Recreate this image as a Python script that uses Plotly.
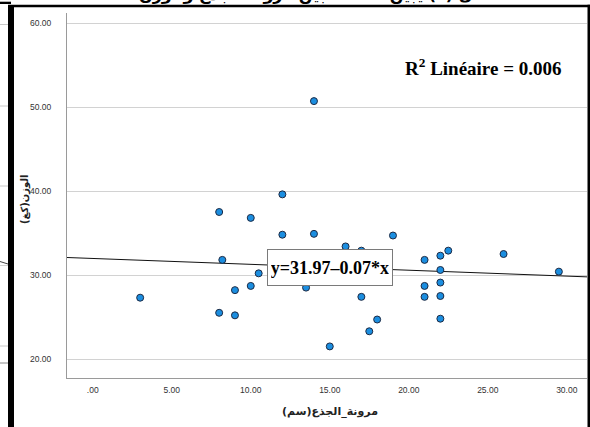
import plotly.graph_objects as go

# Trunk flexibility (cm) against body weight (kg)
flexibility_cm = [12, 8, 10, 12, 14, 19, 16, 17, 8.2, 10.5, 21, 22, 22.5, 26, 22, 29.5,
                  9, 10, 13.5, 21, 22, 17, 21, 22, 8, 9, 18, 22, 17.5, 15, 3, 14]
weight_kg = [39.6, 37.5, 36.8, 34.8, 34.9, 34.7, 33.4, 32.9, 31.8, 30.2, 31.8, 32.3, 32.9, 32.5, 30.6, 30.4,
             28.2, 28.7, 28.5, 28.7, 29.1, 27.4, 27.4, 27.5, 25.5, 25.2, 24.7, 24.8, 23.3, 21.5, 27.3, 50.7]

# Linear fit reported on the chart
intercept = 31.97
slope = -0.07
r_squared = 0.006

x_ticks = [0, 5, 10, 15, 20, 25, 30]
x_tick_labels = [".00", "5.00", "10.00", "15.00", "20.00", "25.00", "30.00"]
y_ticks = [20, 30, 40, 50, 60]
y_tick_labels = ["20.00", "30.00", "40.00", "50.00", "60.00"]

x_range = [-1.63, 31.28]
y_range = [17.74, 61.19]

W, H = 590, 427
L, R, T, B = 67, 3, 13, 49
PW, PH = W - L - R, H - T - B


def px(x):
    return (x - L) / PW


def py(y):
    return (H - B - y) / PH


fig = go.Figure()

fig.add_trace(go.Scatter(
    x=x_range,
    y=[intercept + slope * v for v in x_range],
    mode="lines",
    line=dict(color="#111111", width=1),
    hoverinfo="skip",
    showlegend=False,
))

fig.add_trace(go.Scatter(
    x=flexibility_cm,
    y=weight_kg,
    mode="markers",
    marker=dict(size=7, color="#1b8ee0", line=dict(color="#1c2a44", width=1)),
    showlegend=False,
))

ser = "Liberation Serif, Times New Roman, serif"
sans = "Liberation Sans, Arial, sans-serif"
arabic = "DejaVu Sans, Noto Sans, sans-serif"

annotations = [
    dict(x=15.0, y=30.9, xref="x", yref="y",
         text=f"<b>y={intercept:.2f}–{abs(slope):.2f}*x</b>",
         showarrow=False, font=dict(family=ser, size=18, color="#000000"),
         bgcolor="#ffffff", bordercolor="#7a7a7a", borderwidth=1, borderpad=3,
         width=118, height=29),
    dict(x=px(563), y=py(67), xref="paper", yref="paper", xanchor="right", yanchor="middle",
         text=f"<b>R<sup>2</sup> Linéaire = {r_squared:.3f}</b>",
         showarrow=False, font=dict(family=ser, size=19, color="#000000")),
    dict(x=px(330), y=py(411), xref="paper", yref="paper", xanchor="center", yanchor="middle",
         text="<b>مرونة_الجذع(سم)</b>", showarrow=False,
         font=dict(family=arabic, size=11, color="#222222")),
    dict(x=px(25), y=py(199), xref="paper", yref="paper", xanchor="center", yanchor="middle",
         text="<b>الوزن(كغ)</b>", showarrow=False, textangle=-90,
         font=dict(family=arabic, size=10, color="#222222")),
    # caption above the frame, mostly cut off by the page edge
    dict(x=px(318), y=py(-5), xref="paper", yref="paper", xanchor="center", yanchor="middle",
         text="<b>شكل (٣) يبين العلاقة بين مرونة الجذع والوزن</b>", showarrow=False,
         font=dict(family=arabic, size=16, color="#000000")),
]

shapes = []


def rect(x0, y0, x1, y1, color):
    shapes.append(dict(type="rect", xref="paper", yref="paper",
                       x0=px(x0), x1=px(x1), y0=py(y0), y1=py(y1),
                       fillcolor=color, line=dict(width=0), layer="above"))


def seg(x0, y0, x1, y1, color, width=1):
    shapes.append(dict(type="line", xref="paper", yref="paper",
                       x0=px(x0), x1=px(x1), y0=py(y0), y1=py(y1),
                       line=dict(color=color, width=width), layer="above"))


# page frame around the chart
rect(14, 4.7, 590, 7.3, "#000000")
rect(8, 4.7, 14, 427, "#000000")
rect(0, 1.7, 11, 4, "#000000")
rect(587.5, 4.7, 590, 427, "#000000")

# edge of the neighbouring chart on the page
seg(0, 24.5, 8, 24.5, "#c8c8c8")
seg(0, 106, 8, 106, "#c8c8c8")
seg(0, 186, 8, 186, "#c8c8c8")
seg(0, 261.5, 8, 264, "#444444")
seg(0, 265.5, 8, 265.5, "#d0d0d0")
seg(0, 346, 8, 346, "#c8c8c8")
seg(0, 363, 8, 363, "#8a8a8a")

fig.update_layout(
    width=W, height=H,
    margin=dict(l=L, r=R, t=T, b=B),
    paper_bgcolor="#ffffff",
    plot_bgcolor="#ffffff",
    showlegend=False,
    annotations=annotations,
    shapes=shapes,
    xaxis=dict(
        range=x_range, tickvals=x_ticks, ticktext=x_tick_labels,
        showgrid=False, zeroline=False, showline=True, linecolor="#9a9a9a", linewidth=1,
        ticks="", ticklabelstandoff=4,
        tickfont=dict(family=sans, size=8.5, color="#333333"),
    ),
    yaxis=dict(
        range=y_range, tickvals=y_ticks, ticktext=y_tick_labels,
        showgrid=True, gridcolor="#d2d2d2", gridwidth=1,
        zeroline=False, showline=True, linecolor="#9a9a9a", linewidth=1,
        ticks="", ticklabelstandoff=13,
        tickfont=dict(family=sans, size=8.5, color="#333333"),
    ),
)

fig.write_html("out.html")
